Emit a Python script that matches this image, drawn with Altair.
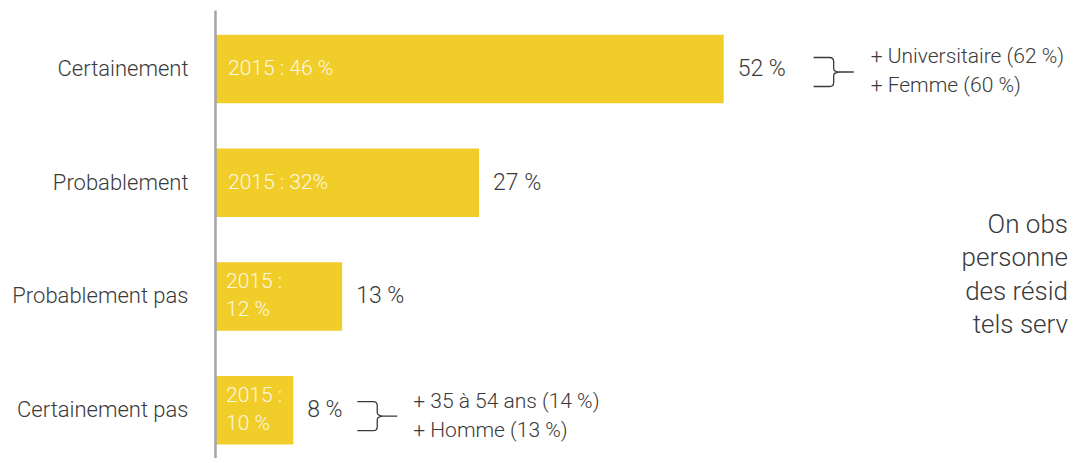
import altair as alt
import pandas as pd

categories = ["Certainement", "Probablement", "Probablement pas", "Certainement pas"]
values_2019 = [52, 27, 13, 8]
labels_2015 = ["2015 : 46 %", "2015 : 32%", "2015 :\n12 %", "2015 :\n10 %"]
value_labels = ["52 %", "27 %", "13 %", "8 %"]
notes = ["+ Universitaire (62 %)\n+ Femme (60 %)", "", "", "+ 35 à 54 ans (14 %)\n+ Homme (13 %)"]
side_lines = ["On obs", "personne", "des résid", "tels serv"]

df = pd.DataFrame({
    "cat": categories,
    "val": values_2019,
    "l2015": labels_2015,
    "vlab": value_labels,
    "note": notes,
})

FONT = "Roboto"
YELLOW = "#F0CD28"
DARK = "#3a3a3a"
XMAX = 87.2

x = alt.X("val:Q", scale=alt.Scale(domain=[0, XMAX], nice=False, zero=True), axis=None)
y = alt.Y("cat:N", sort=categories, title=None,
          scale=alt.Scale(paddingInner=0.397, paddingOuter=0.168, align=0.646),
          axis=alt.Axis(domain=True, domainColor="#A3A3AA", domainWidth=2.5,
                        ticks=False, grid=False, labelPadding=27, labelFont=FONT,
                        labelFontSize=22, labelFontWeight=300, labelColor=DARK,
                        zindex=1))

base = alt.Chart(df)

bars = base.mark_bar(color=YELLOW).encode(x=x, y=y)

two_line = alt.expr.indexof(alt.datum.l2015, "\n") >= 0

in_labels_1 = base.transform_filter(~two_line).mark_text(
    align="left", baseline="middle", dx=13, font=FONT, fontSize=21, fontWeight=300,
    color="#FFFFFF", opacity=0.88).encode(x=alt.value(0), y=y, text="l2015:N")

in_labels_2 = base.transform_filter(two_line).mark_text(
    align="left", baseline="middle", dx=11, dy=-14, lineBreak="\n", lineHeight=28,
    font=FONT, fontSize=21, fontWeight=300,
    color="#FFFFFF", opacity=0.88).encode(x=alt.value(0), y=y, text="l2015:N")

val_labels = base.mark_text(align="left", baseline="middle", dx=14, font=FONT,
                            fontSize=23, fontWeight=300, color=DARK).encode(
    x=x, y=y, text="vlab:N")

BRACE = ("M-1,-0.725 L-0.2,-0.725 Q0,-0.725 0,-0.525 L0,-0.18 Q0,-0.02 0.3,0 L1,0 "
         "M0.3,0 Q0,0.02 0,0.18 L0,0.525 Q0,0.725 -0.2,0.725 L-1,0.725")

def brace_layer(cat, xoff, yoff):
    return base.transform_filter(alt.datum.cat == cat).mark_point(
        shape=BRACE, size=1600, filled=False, stroke=DARK, strokeWidth=1.3,
        opacity=1, xOffset=xoff, yOffset=yoff).encode(x=x, y=y)

def note_layer(cat, dx, dy):
    return base.transform_filter(alt.datum.cat == cat).mark_text(
        align="left", baseline="middle", dx=dx, dy=dy, lineBreak="\n", lineHeight=29,
        font=FONT, fontSize=21, fontWeight=300, color=DARK).encode(
        x=x, y=y, text="note:N")

side_y = [223, 256, 290, 323]
side = [
    base.transform_filter(alt.datum.cat == categories[0]).mark_text(
        align="right", baseline="alphabetic", font=FONT, fontSize=26, fontWeight=300,
        color=DARK).encode(
        x=alt.datum(XMAX), y=alt.value(side_y[i]),
        text=alt.value(side_lines[i]))
    for i in range(4)
]

chart = alt.layer(
    bars, in_labels_1, in_labels_2, val_labels,
    brace_layer("Certainement", 110, 3), brace_layer("Certainement pas", 84, 6),
    note_layer("Certainement", 147, -12), note_layer("Certainement pas", 120, -8),
    *side,
).properties(
    width=853, height=448,
    autosize=alt.AutoSizeParams(type="none"),
    padding={"left": 207, "top": 2, "right": 2, "bottom": 0},
).configure_view(stroke=None)

chart.save("out.html", embed_options={"renderer": "svg", "actions": False})
